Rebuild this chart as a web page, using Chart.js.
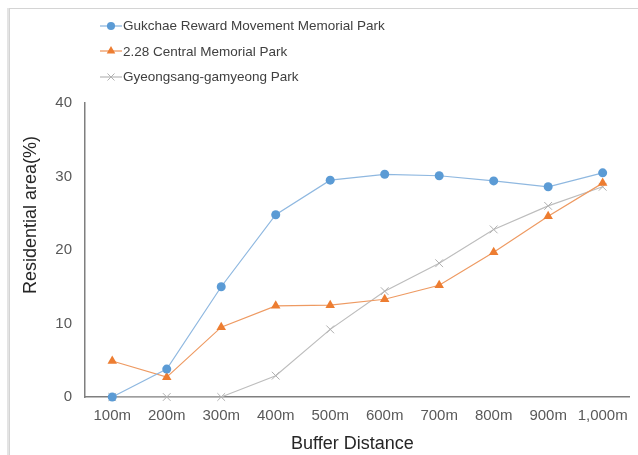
<!DOCTYPE html>
<html>
<head>
<meta charset="utf-8">
<script src="https://cdn.jsdelivr.net/npm/chart.js@4/dist/chart.umd.min.js"></script>
<style>
  html,body{margin:0;padding:0;background:#fff}
  #wrap{position:relative;width:638px;height:455px;overflow:hidden;font-family:"Liberation Sans",Arial,sans-serif}
  #frame{position:absolute;left:9px;top:8px;width:700px;height:500px;border:1px solid #d4d4d4;box-shadow:-2px 0 0 #e4e4e4}
  #chart{position:absolute;left:0;top:0}
  #legend{position:absolute;left:100px;top:13px}
  .item{display:flex;align-items:center;height:25.5px;font-size:13.5px;color:#404040;white-space:nowrap}
  .item canvas{margin-right:1px}
</style>
</head>
<body>
<div id="wrap">
  <div id="frame"></div>
  <canvas id="chart" width="638" height="455"></canvas>
  <div id="legend"></div>
</div>
<script>
const distances = ['100m','200m','300m','400m','500m','600m','700m','800m','900m','1,000m']
const gukchae = [0, 3.8, 15.0, 24.8, 29.5, 30.3, 30.1, 29.4, 28.6, 30.5]
const central228 = [4.9, 2.7, 9.5, 12.4, 12.5, 13.3, 15.2, 19.7, 24.6, 29.1]
const gyeongsang = [0, 0, 0, 2.9, 9.2, 14.4, 18.2, 22.8, 26.0, 28.6]
const yMin = 0, yMax = 40, yStep = 10

function series(label, data, color, lineColor, style, radius){
  return {
    label, data,
    borderColor: lineColor, borderWidth: 1.2,
    pointStyle: style, pointRadius: radius, pointHoverRadius: radius,
    pointBackgroundColor: color, pointBorderColor: color, pointBorderWidth: style==='crossRot'?1:0,
    tension: 0, clip: false
  }
}

const datasets = [
  series('Gukchae Reward Movement Memorial Park', gukchae, '#5B9BD5', '#8FB8E0', 'circle', 4.5),
  series('2.28 Central Memorial Park', central228, '#ED7D31', '#EE9A62', 'triangle', 5.5),
  series('Gyeongsang-gamyeong Park', gyeongsang, '#B0B0B0', '#BDBDBD', 'crossRot', 5.5)
]

const chart = new Chart(document.getElementById('chart'), {
  type: 'line',
  data: {labels: distances, datasets},
  options: {
    responsive: false, animation: false,
    layout: {padding: {left: 0, right: 6, top: 103, bottom: 0}},
    plugins: {legend: {display: false}, tooltip: {enabled: false}},
    scales: {
      x: {
        offset: true,
        grid: {display: false, drawTicks: false, offset: true},
        border: {display: true, color: '#7f7f7f', width: 1.5},
        ticks: {color: '#595959', font: {size: 15, family: '"Liberation Sans", Arial'}, padding: 10, maxRotation: 0, autoSkip: false},
        title: {display: true, text: 'Buffer Distance  ', color: '#262626', font: {size: 18, family: '"Liberation Sans", Arial'}, padding: {top: 0, bottom: 0}},
        afterFit: s => { s.height = 58 }
      },
      y: {
        min: yMin, max: yMax,
        grid: {display: false, drawTicks: false},
        border: {display: true, color: '#7f7f7f', width: 1.5},
        ticks: {stepSize: yStep, color: '#595959', font: {size: 15, family: '"Liberation Sans", Arial'}, padding: 13},
        title: {display: true, text: '              Residential area(%)', color: '#262626', font: {size: 18, family: '"Liberation Sans", Arial'}, padding: {top: 20, bottom: 0}},
        afterFit: s => { s.width = 85 }
      }
    }
  }
})

// legend built from the chart's datasets
const legendEl = document.getElementById('legend')
chart.data.datasets.forEach(ds => {
  const row = document.createElement('div')
  row.className = 'item'
  const c = document.createElement('canvas')
  c.width = 22; c.height = 14
  const ctx = c.getContext('2d')
  ctx.strokeStyle = ds.borderColor; ctx.lineWidth = 1.3
  ctx.beginPath(); ctx.moveTo(0, 7); ctx.lineTo(22, 7); ctx.stroke()
  ctx.fillStyle = ds.pointBackgroundColor; ctx.strokeStyle = ds.pointBorderColor
  ctx.lineWidth = ds.pointBorderWidth || 1
  Chart.helpers.drawPoint(ctx, {pointStyle: ds.pointStyle, radius: ds.pointRadius*0.9, rotation: 0, borderWidth: ds.pointBorderWidth}, 11, 7)
  const txt = document.createElement('span')
  txt.textContent = ds.label
  row.appendChild(c); row.appendChild(txt)
  legendEl.appendChild(row)
})
</script>
</body>
</html>
